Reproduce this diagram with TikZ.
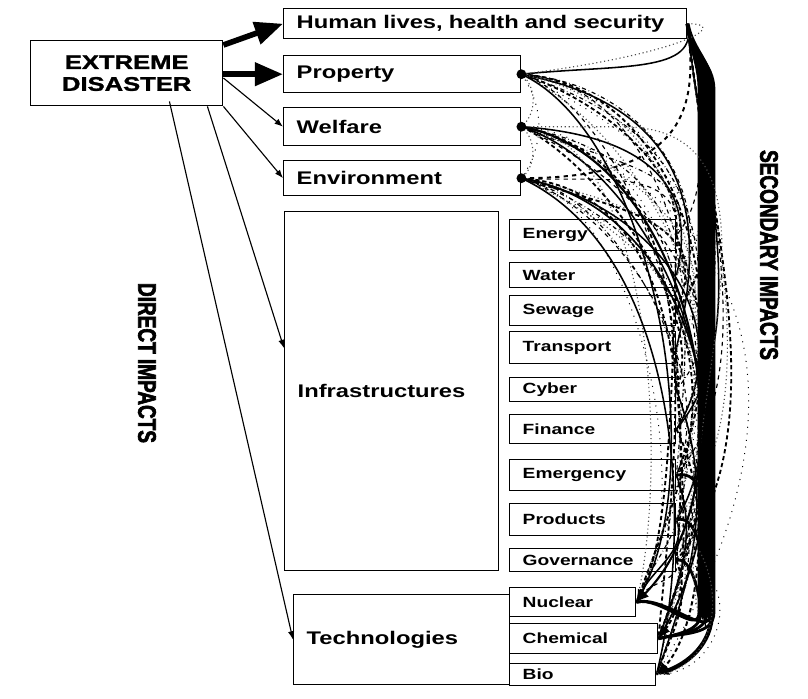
\documentclass[tikz,border=0pt]{standalone}
\usepackage{fontspec}
\setmainfont{Liberation Sans}[FakeStretch=1.3]
\newfontfamily\heavyfont{Liberation Sans}[FakeStretch=1.3, FakeBold=1.5]
\newfontfamily\rotfont{Liberation Sans}[FakeStretch=0.75, FakeBold=2.5]
\usepackage{tikz}
\usetikzlibrary{arrows.meta}
\usetikzlibrary{calc}
\newdimen\pxu
\pxu=0.025cm
\tikzstyle{impact}=[draw=black, line width=1pt, anchor=north west, inner ysep=0pt, inner xsep=13\pxu, align=left, font=\fontsize{13}{15}\selectfont\bfseries]
\tikzstyle{sector}=[impact, font=\fontsize{10.5}{12}\selectfont\bfseries, text width=140\pxu]
\tikzstyle{side_label}=[rotate=-90, font=\rotfont\fontsize{18}{20}\selectfont\bfseries]
\tikzstyle{direct}=[line width=0.8pt, -{Latex[length=6pt,width=4.5pt]}]
\tikzstyle{direct_big}=[line width=4pt, -{Triangle[length=20pt,width=16pt]}]
\tikzstyle{l1}=[line width=1.1pt]
\tikzstyle{l2}=[dashed, line width=0.8pt]
\tikzstyle{l3}=[dotted, line width=0.8pt, black!70]
\tikzstyle{l4}=[densely dashed, line width=1.3pt]
\tikzstyle{l5}=[loosely dotted, line width=0.7pt]
\tikzstyle{l6}=[dash dot, line width=0.8pt]
\tikzstyle{sec_tip}=[-{Latex[length=9pt,width=7pt]}]

\begin{document}
\begin{tikzpicture}[x=\pxu, y=\pxu]
\useasboundingbox (0,0) rectangle (808,-698);
% disaster and direct impacts
\node[impact, align=center, text width=166\pxu, minimum height=65\pxu, font=\heavyfont\fontsize{14}{15.5}\selectfont\bfseries] (dis) at (30,-40) {EXTREME\\DISASTER};
\node[impact, text width=377\pxu, minimum height=30\pxu] (hum) at (283,-8) {\mbox{Human lives, health and security}};
\node[impact, text width=211\pxu, minimum height=37\pxu] (prop) at (283,-55) {Property};
\node[impact, text width=211\pxu, minimum height=38\pxu] (welf) at (283,-107) {Welfare};
\node[impact, text width=211\pxu, minimum height=35\pxu] (env) at (283,-160) {Environment};
\node[impact, text width=188\pxu, minimum height=359\pxu] (infra) at (284,-211) {Infrastructures};
\node[impact, text width=190\pxu, minimum height=90\pxu] (tech) at (293,-594) {Technologies};
% sectors
\node[sector, minimum height=31\pxu] (ener) at (509,-219) {Energy};
\node[sector, minimum height=25\pxu] (wat) at (509,-262) {Water};
\node[sector, minimum height=30\pxu] (sew) at (509,-295) {Sewage};
\node[sector, minimum height=32\pxu] (trans) at (509,-331) {Transport};
\node[sector, minimum height=24\pxu] (cyb) at (509,-377) {Cyber};
\node[sector, minimum height=29\pxu] (fin) at (509,-414) {Finance};
\node[sector, minimum height=31\pxu] (emer) at (509,-459) {Emergency};
\node[sector, minimum height=32\pxu] (prod) at (509,-503) {Products};
\node[sector, minimum height=23\pxu] (gov) at (509,-548) {Governance};
\node[sector, text width=100\pxu, minimum height=29\pxu] (nuc) at (509,-587) {Nuclear};
\node[sector, text width=122\pxu, minimum height=30\pxu] (chem) at (509,-623) {Chemical};
\node[sector, text width=120\pxu, minimum height=22\pxu] (bio) at (509,-663) {Bio};
% side labels
\node[side_label] (dirlab) at (147,-363) {DIRECT IMPACTS};
\node[side_label] (seclab) at (769,-255) {SECONDARY IMPACTS};
% direct arrows
\draw[direct_big] ([yshift=-5\pxu]dis.north east) -- (hum.west);
\draw[direct_big] (dis.east |- prop.west) -- (prop.west);
\draw[direct] ([yshift=-38\pxu]dis.north east) -- (welf.west);
\draw[direct] (dis.south east) -- (env.west);
\draw[direct] ([xshift=-16\pxu]dis.south east) -- ([yshift=43\pxu]infra.west);
\draw[direct] ([xshift=-54\pxu,yshift=5\pxu]dis.south east) -- (tech.west);
% secondary impacts
\coordinate (sp1) at (712,-90);
\coordinate (sp2) at (712,-612);
\foreach \t [count=\i] in {ener,wat,sew,trans,cyb,fin,emer,prod,gov,nuc,chem,bio}
  \foreach \s [count=\j] in {prop,welf,env}
  {
    \pgfmathtruncatemacro\k{mod(\i+2*\j,6)+1}
    \pgfmathsetmacro\lo{0.7+0.14*mod(\i*\j,5)}
    \pgfmathsetmacro\ou{-4-7*mod(\i+\j,4)}
    \pgfmathsetmacro\inn{58+9*mod(\i+2*\j,4)}
    \draw[l\k] (\s.east) to[out=\ou,in=\inn,looseness=\lo] (\t.east);
  }
\foreach \t [count=\i] in {ener,wat,sew,trans,cyb,fin,emer,prod,gov}
  {
    \pgfmathtruncatemacro\k{mod(\i,6)+1}
    \draw[l\k] (hum.east) to[out=-85,in=50,looseness=0.8] (\t.east);
  }
\foreach \s [count=\i] in {ener,sew,cyb,emer,prod,gov}
  \foreach \t [count=\j] in {nuc,chem,bio}
  {
    \pgfmathtruncatemacro\k{mod(\i+\j,6)+1}
    \draw[l\k] (\s.east) to[out=-70,in=70] (\t.east);
  }
\foreach \dx/\t in {-13/nuc,-11/chem,-9/gov,-7/prod,-5/chem,-3/emer,-1/nuc,2/chem}
  \draw[l1, line width=2pt] (hum.east) to[out=-85,in=90] ([xshift=\dx\pxu]sp1) -- ([xshift=\dx\pxu]sp2) to[out=-90,in=15] (\t.east);
\draw[l1, line width=3pt, sec_tip] (hum.east) to[out=-80,in=90] (sp1) -- (sp2) to[out=-90,in=20] (bio.east);
\draw[l1] (prop.east) .. controls +(100,10) and +(12,-50) .. (hum.east);
\draw[l3] (hum.east) .. controls +(45,0) and +(160,20) .. (prop.east);
\draw[l2, line width=1.4pt] (hum.east) .. controls +(10,-80) and +(170,0) .. (env.east);
\draw[l3] (prop.east) to[out=-40,in=40] (welf.east);
\draw[l3] (welf.east) to[out=-40,in=40] (env.east);
\draw[l5] (prop.east) to[out=-55,in=55] (env.east);
\draw[l3] (welf.east) -- ++(100,0) to[out=0,in=100] ([xshift=-14\pxu]sp2);
\draw[l5] (gov.east) .. controls +(70,-10) and +(70,0) .. (bio.east);
\draw[l3] (prod.east) .. controls +(60,-60) and +(60,5) .. (bio.east);
\draw[l4, sec_tip] (ener.east) .. controls +(-5,-200) and +(30,60) .. (nuc.east);
\draw[l1, line width=1.5pt, sec_tip] (welf.east) to[out=-10,in=45,looseness=0.9] (nuc.east);
\draw[l4, sec_tip] (trans.east) .. controls +(10,-200) and +(30,40) .. (chem.east);
\draw[l1, line width=1.2pt, sec_tip] (env.east) to[out=-10,in=60] (chem.east);
\draw[l4, line width=1.4pt, sec_tip] (fin.east) .. controls +(40,-80) and +(40,40) .. (bio.east);
\fill (prop.east) circle (3.5pt);
\fill (welf.east) circle (3.5pt);
\fill (env.east) circle (3.5pt);
\end{tikzpicture}
\end{document}
